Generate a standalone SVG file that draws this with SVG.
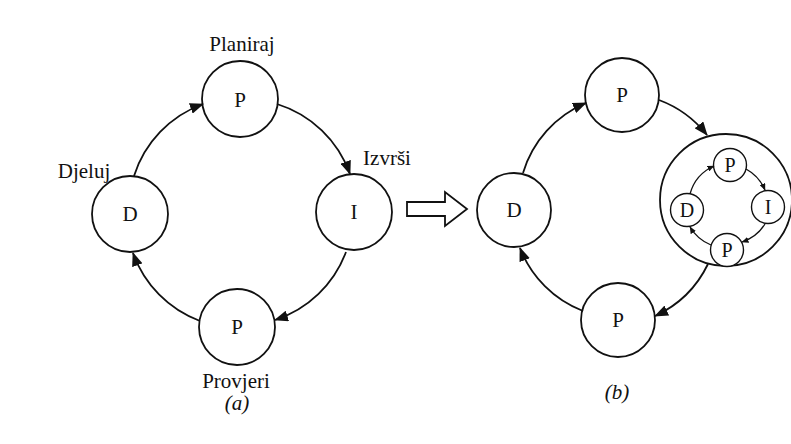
<svg xmlns="http://www.w3.org/2000/svg" width="791" height="444" viewBox="0 0 791 444">
<style>
.node{fill:#fff;stroke:#111;stroke-width:1.8}
.sm{fill:#fff;stroke:#111;stroke-width:1.4}
.t{font-family:"Liberation Serif","Times New Roman",serif;fill:#111;text-anchor:middle}
.n{font-size:21px}
.s{font-size:20px}
.lab{font-size:21px}
.c{fill:none;stroke:#111;stroke-width:1.8}
.ci{fill:none;stroke:#111;stroke-width:1.3}
</style>
<defs>
<marker id="ah" viewBox="0 0 14 11" refX="13" refY="5.5" markerWidth="14" markerHeight="11" markerUnits="userSpaceOnUse" orient="auto">
<path d="M0,0 L14,5.5 L0,11 Z" fill="#111"/>
</marker>
<marker id="ahs" viewBox="0 0 7 6" refX="6.5" refY="3" markerWidth="7" markerHeight="6" markerUnits="userSpaceOnUse" orient="auto">
<path d="M0,0 L7,3 L0,6 Z" fill="#111"/>
</marker>
</defs>
<rect width="791" height="444" fill="#fff"/>
<g id="a-P-top"><circle class="node" cx="240" cy="99" r="38"/><text class="t n" x="240" y="107">P</text></g>
<g id="a-D"><circle class="node" cx="130" cy="214" r="38"/><text class="t n" x="130" y="221">D</text></g>
<g id="a-I"><circle class="node" cx="354" cy="212" r="38"/><text class="t n" x="354" y="219">I</text></g>
<g id="a-P-bottom"><circle class="node" cx="237" cy="327" r="38"/><text class="t n" x="237" y="334">P</text></g>
<g id="labels-a">
<text class="t lab" x="242" y="51">Planiraj</text>
<text class="t lab" x="84" y="178">Djeluj</text>
<text class="t lab" x="387" y="165">Izvrši</text>
<text class="t lab" x="236" y="388">Provjeri</text>
<text class="t lab" x="237" y="410" font-style="italic">(a)</text>
</g>
<g id="transform-arrow"><polygon points="407,202 445,202 445,192 467,209 445,226 445,216 407,216" fill="#fff" stroke="#111" stroke-width="1.8"/></g>
<g id="b-D"><circle class="node" cx="514" cy="210" r="37"/><text class="t n" x="514" y="217">D</text></g>
<g id="b-P-top"><circle class="node" cx="622" cy="95" r="37"/><text class="t n" x="622" y="102">P</text></g>
<g id="b-P-bottom"><circle class="node" cx="618" cy="320" r="37"/><text class="t n" x="618" y="327">P</text></g>
<g id="b-I-nested">
<circle class="node" cx="726" cy="200" r="66"/>
<g id="in-P-top"><circle class="sm" cx="730" cy="165" r="16.5"/><text class="t s" x="730" y="172">P</text></g>
<g id="in-D"><circle class="sm" cx="687" cy="210" r="16.5"/><text class="t s" x="687" y="217">D</text></g>
<g id="in-I"><circle class="sm" cx="768" cy="207" r="16.5"/><text class="t s" x="768" y="214">I</text></g>
<g id="in-P-bottom"><circle class="sm" cx="727" cy="250" r="16.5"/><text class="t s" x="727" y="257">P</text></g>
</g>
<text class="t lab" x="617" y="399" font-style="italic">(b)</text>
<g id="connectors">
<path class="c" d="M134,176 A113,113 0 0 1 203,104" marker-end="url(#ah)"/>
<path class="c" d="M277,104 A113,113 0 0 1 350,174" marker-end="url(#ah)"/>
<path class="c" d="M346,252 A113,113 0 0 1 275,320" marker-end="url(#ah)"/>
<path class="c" d="M200,321 A113,113 0 0 1 133,253" marker-end="url(#ah)"/>
<path class="c" d="M523,173 A110,110 0 0 1 586,103" marker-end="url(#ah)"/>
<path class="c" d="M659,100 A110,110 0 0 1 707,135" marker-end="url(#ah)"/>
<path class="c" d="M708,264 A110,110 0 0 1 655,316" marker-end="url(#ah)"/>
<path class="c" d="M583,311 A110,110 0 0 1 520,248" marker-end="url(#ah)"/>
<path class="ci" d="M690,194 A43,43 0 0 1 714,166" marker-end="url(#ahs)"/>
<path class="ci" d="M746,169 A43,43 0 0 1 765,190" marker-end="url(#ahs)"/>
<path class="ci" d="M765,224 A43,43 0 0 1 742,242" marker-end="url(#ahs)"/>
<path class="ci" d="M711,245 A43,43 0 0 1 690,227" marker-end="url(#ahs)"/>
</g>
</svg>
